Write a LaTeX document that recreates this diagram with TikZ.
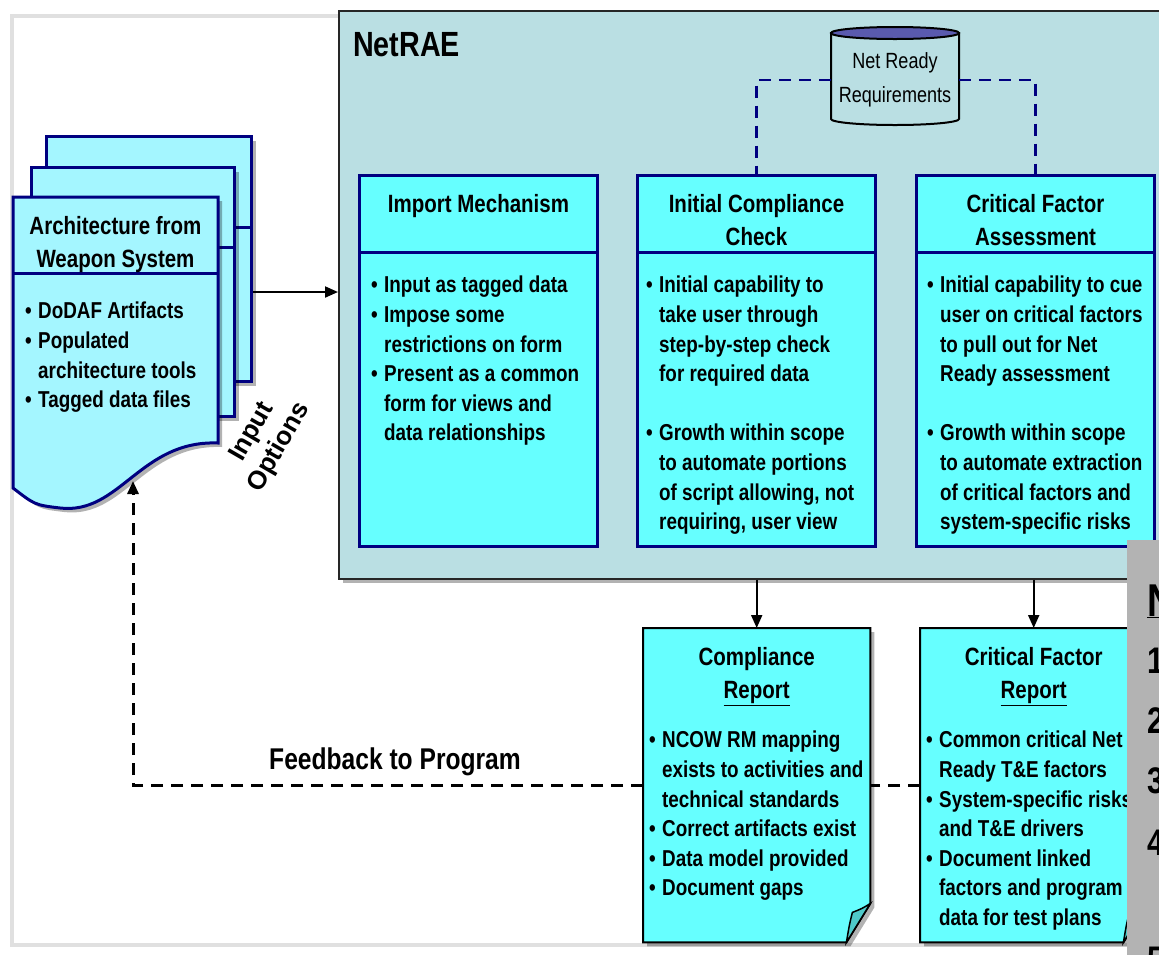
\documentclass[tikz,border=0pt]{standalone}
\usepackage{fontspec}
\setmainfont{Liberation Sans}[FakeStretch=0.82]
\newfontfamily\widefont{Liberation Sans}
\usetikzlibrary{calc,arrows.meta,positioning,shadows}

\definecolor{panelteal}{HTML}{BADFE3}
\definecolor{boxcyan}{HTML}{66FFFF}
\definecolor{sheetcyan}{HTML}{A4F6FF}
\definecolor{navy}{HTML}{000080}
\definecolor{cyltop}{HTML}{5A5AAE}
\definecolor{foldcyan}{HTML}{4FCACA}
\definecolor{notegrey}{HTML}{B3B3B3}

\newcommand{\headfont}{\fontsize{25}{33.5}\selectfont}
\newcommand{\bodyfont}{\fontsize{23}{29.6}\selectfont}
\newcommand{\bul}{\makebox[13pt][l]{\textbullet}}
\newcommand{\ind}{\hspace*{13pt}}
% report page with a folded lower right corner
\newcommand{\notepage}[1]{%
  \filldraw[fill=boxcyan,line width=2pt,dropsh] (#1.north west) -- (#1.north east)
    -- ([yshift=39pt]#1.south east) -- ([xshift=-24pt]#1.south east) -- (#1.south west) -- cycle;
  \filldraw[fill=foldcyan,line width=1.5pt] ([yshift=39pt]#1.south east)
    .. controls ([shift={(-8pt,34pt)}]#1.south east) .. ([shift={(-18pt,30pt)}]#1.south east)
    .. controls ([shift={(-21pt,18pt)}]#1.south east) .. ([xshift=-24pt]#1.south east) -- cycle;}

\begin{document}
\begin{tikzpicture}[x=1pt,y=-1pt,font=\bfseries,
  dropsh/.style={drop shadow={shadow xshift=4pt,shadow yshift=-4pt,opacity=.3,fill=black}},
  panel/.style={draw=black!85,line width=1.5pt,fill=panelteal,anchor=north west,inner sep=0pt,dropsh},
  stepbox/.style={draw=navy,line width=3pt,fill=boxcyan,minimum width=238pt,minimum height=371pt,inner sep=0pt},
  sheet/.style={draw=navy,line width=3pt,fill=sheetcyan,anchor=north west,inner sep=0pt,dropsh},
  report/.style={anchor=north west,minimum width=227pt,minimum height=314pt,inner sep=0pt},
  ttl/.style={anchor=north,align=center,inner sep=0pt,font=\bfseries\headfont},
  body/.style={anchor=north west,align=left,inner sep=0pt,font=\bfseries\bodyfont},
  fbtxt/.style={inner sep=0pt,font=\bfseries\fontsize{30}{36}\selectfont},
  inopt/.style={rotate=60,align=center,inner sep=0pt,font=\widefont\bfseries\fontsize{26}{31}\selectfont},
  numtxt/.style={anchor=base west,inner sep=0pt,font=\bfseries\fontsize{37}{40}\selectfont},
  arr/.style={-{Triangle[length=13pt,width=11pt]},line width=2pt},
  link/.style={draw=navy,line width=2.5pt,dash pattern=on 12pt off 8pt},
  fb/.style={line width=3pt,dash pattern=on 12pt off 8pt}]
\path[use as bounding box] (0,0) rectangle (1159,954);
\clip (0,0) rectangle (1159,954);
% slide frame
\draw[black!12,line width=4pt] (12,16) rectangle (1210,945);

% NetRAE tool panel
\node[panel,minimum width=860pt,minimum height=568pt] (netrae) at (338,10) {};
\node[anchor=north west,inner sep=0pt,font=\bfseries\fontsize{35}{40}\selectfont] (netraet) at ([xshift=15pt,yshift=-22pt]netrae.north west) {NetRAE};

% requirements store
\coordinate (reqc) at (895,80);
\filldraw[fill=panelteal,line width=2pt] ([shift={(-64pt,47pt)}]reqc) -- ([shift={(-64pt,-39pt)}]reqc)
  arc[start angle=180,end angle=360,x radius=64pt,y radius=6pt] -- ([shift={(64pt,47pt)}]reqc) -- cycle;
\filldraw[fill=cyltop,line width=2pt] ([yshift=47pt]reqc) ellipse[x radius=64pt,y radius=6pt];
\node[minimum width=128pt,minimum height=98pt,inner sep=0pt,align=center,font=\mdseries\fontsize{22}{34}\selectfont] (req) at (reqc) {Net Ready\\Requirements};

% the three steps
\node[stepbox,anchor=north west] (imp) at (358,174) {};
\node[stepbox,right=37pt of imp] (chk) {};
\node[stepbox,right=38pt of chk] (cfa) {};
\draw[link] (req.west) -| (chk.north);
\draw[link] (req.east) -| (cfa.north);
\draw[navy,line width=3pt] ([yshift=-78pt]imp.north west) -- ([yshift=-78pt]imp.north east);
\draw[navy,line width=3pt] ([yshift=-78pt]chk.north west) -- ([yshift=-78pt]chk.north east);
\draw[navy,line width=3pt] ([yshift=-78pt]cfa.north west) -- ([yshift=-78pt]cfa.north east);
\node[ttl] (impt) at ([yshift=-20pt]imp.north) {Import Mechanism};
\node[ttl] (chkt) at ([yshift=-20pt]chk.north) {Initial Compliance\\Check};
\node[ttl] (cfat) at ([yshift=-20pt]cfa.north) {Critical Factor\\Assessment};
\node[body] (impb) at ([xshift=13pt,yshift=-102pt]imp.north west)
  {\bul Input as tagged data\\\bul Impose some\\\ind restrictions on form\\
   \bul Present as a common\\\ind form for views and\\\ind data relationships};
\node[body] (chkb) at ([xshift=10pt,yshift=-102pt]chk.north west)
  {\bul Initial capability to\\\ind take user through\\\ind step-by-step check\\\ind for required data\\[29.6pt]
   \bul Growth within scope\\\ind to automate portions\\\ind of script allowing, not\\\ind requiring, user view};
\node[body] (cfab) at ([xshift=12pt,yshift=-102pt]cfa.north west)
  {\bul Initial capability to cue\\\ind user on critical factors\\\ind to pull out for Net\\\ind Ready assessment\\[29.6pt]
   \bul Growth within scope\\\ind to automate extraction\\\ind of critical factors and\\\ind system-specific risks};

% input document stack
\node[sheet,minimum width=205pt,minimum height=245pt] (back) at (45,135) {};
\draw[navy,line width=3pt] ([yshift=-92pt]back.north west) -- ([yshift=-92pt]back.north east);
\node[sheet,minimum width=203pt,minimum height=249pt] (mid) at (30,166) {};
\draw[navy,line width=3pt] ([yshift=-81pt]mid.north west) -- ([yshift=-81pt]mid.north east);
\filldraw[draw=navy,fill=sheetcyan,line width=3pt,dropsh] (13,197) -- (218,197) -- (218,443)
  .. controls (140,440) and (120,515) .. (60,508) .. controls (35,505) .. (13,488) -- cycle;
\draw[navy,line width=3pt] (13,273) -- (218,273);
\coordinate (docwave) at (133,481);
\node[ttl] (arch) at (115.5,216) {Architecture from\\Weapon System};
\node[body] (archb) at (25,302)
  {\bul DoDAF Artifacts\\\bul Populated\\\ind architecture tools\\\bul Tagged data files};
\draw[arr] (mid.east -| back.east) -- (mid.east -| netrae.west);
\node[inopt] (inopt) at (266,440) {Input\\Options};

% reports
\node[report] (comp) at (643,628) {};
\node[report] (cfr) at (920,628) {};
\notepage{comp}
\notepage{cfr}
\draw[arr] (netrae.south -| comp.north) -- (comp.north);
\draw[arr] (netrae.south -| cfr.north) -- (cfr.north);
\node[ttl] (compt) at ([yshift=-19pt]comp.north) {Compliance\\\underline{Report}};
\node[ttl] (cfrt) at ([yshift=-19pt]cfr.north) {Critical Factor\\\underline{Report}};
\node[body] (compb) at ([xshift=6pt,yshift=-103pt]comp.north west)
  {\bul NCOW RM mapping\\\ind exists to activities and\\\ind technical standards\\
   \bul Correct artifacts exist\\\bul Data model provided\\\bul Document gaps};
\node[body] (cfrb) at ([xshift=6pt,yshift=-103pt]cfr.north west)
  {\bul Common critical Net\\\ind Ready T\&E factors\\\bul System-specific risks\\\ind and T\&E drivers\\
   \bul Document linked\\\ind factors and program\\\ind data for test plans};

% feedback loop
\draw[fb] (cfr.west) -- (comp.east);
\draw[arr,fb] (comp.west) -| (docwave);
\node[fbtxt] (fbl) at (395,762) {Feedback to Program};

% notes panel
\fill[notegrey] (1127,540) rectangle (1175,965);
\node[numtxt,font=\bfseries\fontsize{46}{46}\selectfont] (nhead) at (1147,616) {\underline{N}};
\node[numtxt] (n1) at (1147,673) {1};
\node[numtxt] (n2) at (1147,733) {2};
\node[numtxt] (n3) at (1147,793) {3};
\node[numtxt] (n4) at (1147,855) {4};
\node[numtxt] (n5) at (1147,972) {5};
\end{tikzpicture}
\end{document}
